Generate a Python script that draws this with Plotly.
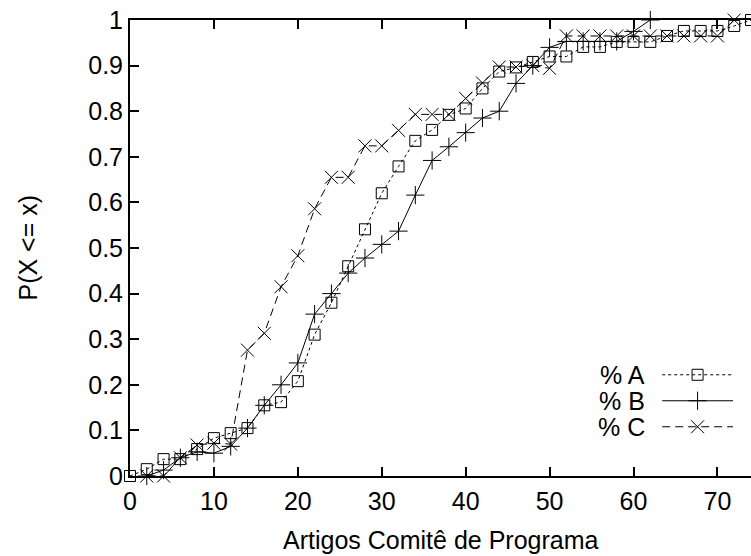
import plotly.graph_objects as go

# ---- data ----
x_a = [0, 2, 4, 6, 8, 10, 12, 14, 16, 18, 20, 22, 24, 26, 28, 30, 32, 34, 36, 38,
       40, 42, 44, 46, 48, 50, 52, 54, 56, 58, 60, 62, 64, 66, 68, 70, 72, 74]
y_a = [0.0, 0.015, 0.037, 0.037, 0.059, 0.083, 0.094, 0.105, 0.155, 0.162, 0.208,
       0.31, 0.38, 0.46, 0.541, 0.62, 0.679, 0.735, 0.759, 0.792, 0.806, 0.85,
       0.887, 0.896, 0.908, 0.92, 0.92, 0.941, 0.941, 0.952, 0.952, 0.952, 0.965,
       0.976, 0.976, 0.976, 0.987, 1.0]

x_b = [2, 4, 6, 8, 10, 12, 14, 16, 18, 20, 22, 24, 26, 28, 30, 32, 34, 36, 38, 40,
       42, 44, 46, 48, 50, 52, 54, 56, 58, 60, 62]
y_b = [0.0, 0.013, 0.04, 0.053, 0.05, 0.065, 0.105, 0.155, 0.2, 0.248, 0.355, 0.4,
       0.445, 0.478, 0.508, 0.537, 0.616, 0.692, 0.722, 0.753, 0.785, 0.8, 0.861,
       0.9, 0.94, 0.953, 0.953, 0.953, 0.953, 0.975, 1.0]

x_c = [2, 4, 6, 8, 10, 12, 14, 16, 18, 20, 22, 24, 26, 28, 30, 32, 34, 36, 38, 40,
       42, 44, 46, 48, 50, 52, 54, 56, 58, 60, 62, 64, 66, 68, 70, 72]
y_c = [0.0, 0.0, 0.04, 0.068, 0.072, 0.07, 0.276, 0.313, 0.415, 0.483, 0.586, 0.655,
       0.655, 0.724, 0.724, 0.758, 0.793, 0.793, 0.793, 0.828, 0.862, 0.897, 0.897,
       0.9, 0.894, 0.965, 0.965, 0.965, 0.965, 0.965, 0.965, 0.965, 0.965, 0.965,
       0.965, 1.0]

series_names = ["% A", "% B", "% C"]
x_ticks = [0, 10, 20, 30, 40, 50, 60, 70]
y_ticks = [0, 0.1, 0.2, 0.3, 0.4, 0.5, 0.6, 0.7, 0.8, 0.9, 1]
y_ticktext = ["0", "0.1", "0.2", "0.3", "0.4", "0.5", "0.6", "0.7", "0.8", "0.9", "1"]

FONT = "Liberation Sans, Arial, Helvetica, sans-serif"
FS = 25

styles = [
    dict(dash="dot", symbol="square-open", size=11),
    dict(dash="solid", symbol="cross-thin-open", size=13),
    dict(dash="8px,5px", symbol="x-thin-open", size=13),
]

fig = go.Figure()
for (xs, ys), st, name in zip([(x_a, y_a), (x_b, y_b), (x_c, y_c)], styles, series_names):
    fig.add_trace(go.Scatter(
        x=xs, y=ys, mode="lines+markers", name=name, showlegend=False,
        line=dict(color="black", width=1, dash=st["dash"]),
        marker=dict(symbol=st["symbol"], size=st["size"], color="black",
                    line=dict(color="black", width=1)),
        cliponaxis=False,
    ))

# ---- custom gnuplot-style key (text left of sample) ----
key_y = [0.222, 0.165, 0.108]
for name, st, ky in zip(series_names, styles, key_y):
    fig.add_trace(go.Scatter(
        x=[0.857, 0.971], y=[ky, ky], mode="lines", xaxis="x2", yaxis="y2",
        showlegend=False, hoverinfo="skip",
        line=dict(color="black", width=1, dash=st["dash"]),
    ))
    fig.add_trace(go.Scatter(
        x=[0.914], y=[ky], mode="markers", xaxis="x2", yaxis="y2",
        showlegend=False, hoverinfo="skip",
        marker=dict(symbol=st["symbol"], size=st["size"], color="black",
                    line=dict(color="black", width=1)),
    ))
    fig.add_annotation(
        x=0.832, y=ky, xref="x2", yref="y2", text=name, showarrow=False,
        xanchor="right", yanchor="middle",
        font=dict(family=FONT, size=FS, color="black"),
    )

# axis titles as annotations for exact placement
fig.add_annotation(text="Artigos Comitê de Programa", xref="paper", yref="paper",
                   x=0.5, y=-0.141, xanchor="center", yanchor="middle",
                   showarrow=False, font=dict(family=FONT, size=FS, color="black"))
fig.add_annotation(text="P(X <= x)", xref="paper", yref="paper",
                   x=-0.165, y=0.5, xanchor="center", yanchor="middle", textangle=-90,
                   showarrow=False, font=dict(family=FONT, size=FS, color="black"))

fig.update_layout(
    width=751, height=556,
    margin=dict(l=130, r=0, t=20, b=80),
    paper_bgcolor="white", plot_bgcolor="white",
    font=dict(family=FONT, size=FS, color="black"),
    xaxis=dict(
        range=[0, 74], tickvals=x_ticks, ticks="inside", ticklen=9, tickwidth=2,
        tickcolor="black", showline=True, linecolor="black", linewidth=2,
        mirror="ticks", showgrid=False, zeroline=False, ticklabelstandoff=2,
        tickfont=dict(family=FONT, size=FS),
    ),
    yaxis=dict(
        range=[0, 1], tickvals=y_ticks, ticktext=y_ticktext, ticks="inside",
        ticklen=9, tickwidth=2, tickcolor="black", showline=True,
        linecolor="black", linewidth=2, showgrid=False, zeroline=False,
        tickfont=dict(family=FONT, size=FS),
    ),
    xaxis2=dict(overlaying="x", range=[0, 1], visible=False, fixedrange=True),
    yaxis2=dict(overlaying="y", range=[0, 1], visible=False, fixedrange=True),
)

fig.write_html("out.html")
